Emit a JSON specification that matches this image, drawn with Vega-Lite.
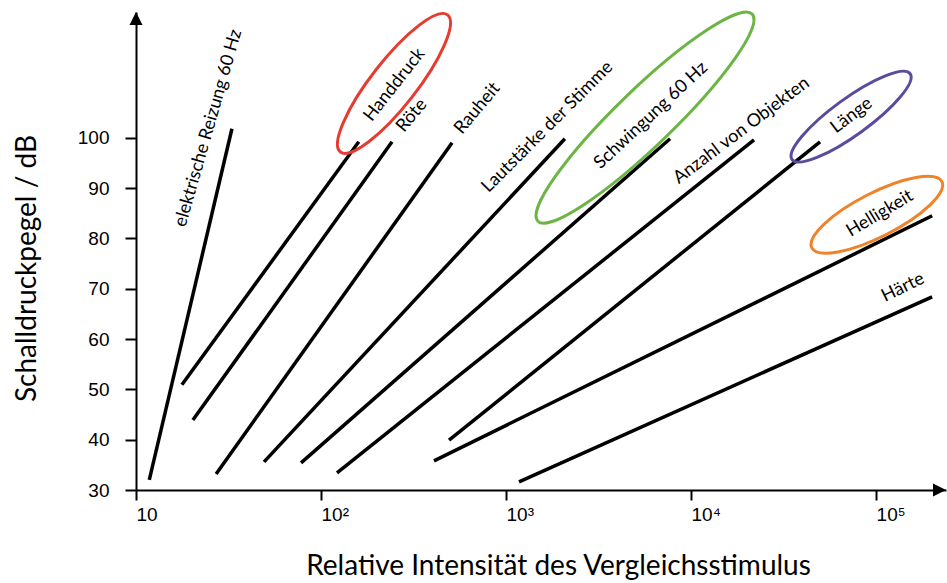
{
  "$schema": "https://vega.github.io/schema/vega-lite/v6.json",
  "width": 810,
  "height": 478,
  "autosize": "none",
  "padding": {"left": 136, "top": 12, "right": 1, "bottom": 93},
  "background": "white",
  "config": {"view": {"stroke": null}},
  "datasets": {
    "lines": [
      {"stimulus": "elektrische Reizung 60 Hz", "intensity": 11.8, "level": 32.0},
      {"stimulus": "elektrische Reizung 60 Hz", "intensity": 33.0, "level": 101.8},
      {"stimulus": "Handdruck", "intensity": 17.7, "level": 50.9},
      {"stimulus": "Handdruck", "intensity": 160, "level": 99.2},
      {"stimulus": "Röte", "intensity": 20.3, "level": 43.9},
      {"stimulus": "Röte", "intensity": 242, "level": 99.2},
      {"stimulus": "Rauheit", "intensity": 27.1, "level": 33.2},
      {"stimulus": "Rauheit", "intensity": 511, "level": 99.0},
      {"stimulus": "Lautstärke der Stimme", "intensity": 49.2, "level": 35.6},
      {"stimulus": "Lautstärke der Stimme", "intensity": 2080, "level": 99.8},
      {"stimulus": "Schwingung 60 Hz", "intensity": 78, "level": 35.4},
      {"stimulus": "Schwingung 60 Hz", "intensity": 7700, "level": 99.8},
      {"stimulus": "Anzahl von Objekten", "intensity": 122, "level": 33.4},
      {"stimulus": "Anzahl von Objekten", "intensity": 21900, "level": 99.6},
      {"stimulus": "Länge", "intensity": 492, "level": 39.9},
      {"stimulus": "Länge", "intensity": 49800, "level": 99.2},
      {"stimulus": "Helligkeit", "intensity": 408, "level": 35.8},
      {"stimulus": "Helligkeit", "intensity": 201000, "level": 84.5},
      {"stimulus": "Härte", "intensity": 1175, "level": 31.6},
      {"stimulus": "Härte", "intensity": 201000, "level": 68.4}
    ],
    "labels": [
      {"label": "elektrische Reizung 60 Hz", "intensity": 24.7, "level": 101.9},
      {"label": "Handdruck", "intensity": 250, "level": 110.5},
      {"label": "Röte", "intensity": 310, "level": 104.4},
      {"label": "Rauheit", "intensity": 701, "level": 105.8},
      {"label": "Lautstärke der Stimme", "intensity": 1676, "level": 102.1},
      {"label": "Schwingung  60 Hz", "intensity": 6080, "level": 104.4},
      {"label": "Anzahl von Objekten", "intensity": 18750, "level": 101.4},
      {"label": "Länge", "intensity": 73800, "level": 104.4},
      {"label": "Helligkeit", "intensity": 105000, "level": 84.9},
      {"label": "Härte", "intensity": 140000, "level": 70.2}
    ],
    "circled": [
      {"label": "Handdruck", "intensity": 248, "level": 110.8},
      {"label": "Schwingung", "intensity": 5640, "level": 104.0},
      {"label": "Länge", "intensity": 73300, "level": 104.2},
      {"label": "Helligkeit", "intensity": 101000, "level": 84.7}
    ],
    "axisEnds": [
      {"axis": "x", "intensity": 238800, "level": 30},
      {"axis": "y", "intensity": 10, "level": 125}
    ]
  },
  "encoding": {
    "x": {
      "field": "intensity", "type": "quantitative",
      "scale": {"type": "log", "domain": [10, 238800], "nice": false},
      "axis": {
        "values": [10, 100, 1000, 10000, 100000],
        "labelExpr": "datum.value == 10 ? '10' : datum.value == 100 ? '10²' : datum.value == 1000 ? '10³' : datum.value == 10000 ? '10⁴' : '10⁵'",
        "grid": false, "domainColor": "black", "domainWidth": 2,
        "tickColor": "black", "tickWidth": 2, "tickSize": 10,
        "labelFont": "Liberation Sans", "labelFontSize": 19, "labelColor": "black",
        "labelAlign": "left", "labelPadding": 5, "labelFlush": false, "labelOverlap": false,
        "title": "Relative Intensität des Vergleichsstimulus",
        "titleFont": "Lato", "titleFontSize": 28, "titleFontWeight": "normal", "titleColor": "black",
        "titleX": 422, "titleY": 84, "titleAlign": "center", "titleBaseline": "alphabetic"
      }
    },
    "y": {
      "field": "level", "type": "quantitative",
      "scale": {"domain": [30, 125], "nice": false, "zero": false},
      "axis": {
        "values": [30, 40, 50, 60, 70, 80, 90, 100],
        "grid": false, "domainColor": "black", "domainWidth": 2,
        "tickColor": "black", "tickWidth": 2, "tickSize": 11,
        "labelFont": "Liberation Sans", "labelFontSize": 19, "labelColor": "black",
        "labelPadding": 16, "labelOverlap": false, "labelFlush": false,
        "title": "Schalldruckpegel / dB",
        "titleFont": "Lato", "titleFontSize": 28, "titleFontWeight": "normal", "titleColor": "black",
        "titleX": -101, "titleY": 256, "titleAngle": -90, "titleAlign": "center", "titleBaseline": "alphabetic"
      }
    }
  },
  "layer": [
    {
      "data": {"name": "lines"},
      "mark": {"type": "line", "color": "black", "strokeWidth": 3.5},
      "encoding": {"detail": {"field": "stimulus"}, "order": {"field": "intensity", "type": "quantitative"}}
    },
    {
      "data": {"name": "axisEnds"},
      "transform": [{"filter": "datum.axis == 'y'"}],
      "mark": {"type": "point", "shape": "M0,0L-0.5,1L0.5,1Z", "size": 676, "filled": true, "fill": "black", "stroke": null, "opacity": 1}
    },
    {
      "data": {"name": "axisEnds"},
      "transform": [{"filter": "datum.axis == 'x'"}],
      "mark": {"type": "point", "shape": "M0,0L-1,-0.5L-1,0.5Z", "size": 676, "filled": true, "fill": "black", "stroke": null, "opacity": 1}
    },
    {
      "data": {"name": "circled"},
      "transform": [{"filter": "datum.label == 'Handdruck'"}],
      "mark": {"type": "point", "shape": "M-1,0C-1,-0.1436,-0.5523,-0.26,0,-0.26C0.5523,-0.26,1,-0.1436,1,0C1,0.1436,0.5523,0.26,0,0.26C-0.5523,0.26,-1,0.1436,-1,0Z", "size": 30276, "angle": -52, "filled": false, "stroke": "#e63b2e", "strokeWidth": 3, "opacity": 1}
    },
    {
      "data": {"name": "circled"},
      "transform": [{"filter": "datum.label == 'Schwingung'"}],
      "mark": {"type": "point", "shape": "M-1,0C-1,-0.1049,-0.5523,-0.19,0,-0.19C0.5523,-0.19,1,-0.1049,1,0C1,0.1049,0.5523,0.19,0,0.19C-0.5523,0.19,-1,0.1049,-1,0Z", "size": 88804, "angle": -44, "filled": false, "stroke": "#6cb544", "strokeWidth": 3, "opacity": 1}
    },
    {
      "data": {"name": "circled"},
      "transform": [{"filter": "datum.label == 'Länge'"}],
      "mark": {"type": "point", "shape": "M-1,0C-1,-0.1381,-0.5523,-0.25,0,-0.25C0.5523,-0.25,1,-0.1381,1,0C1,0.1381,0.5523,0.25,0,0.25C-0.5523,0.25,-1,0.1381,-1,0Z", "size": 21316, "angle": -36, "filled": false, "stroke": "#5c4a9c", "strokeWidth": 3, "opacity": 1}
    },
    {
      "data": {"name": "circled"},
      "transform": [{"filter": "datum.label == 'Helligkeit'"}],
      "mark": {"type": "point", "shape": "M-1,0C-1,-0.1657,-0.5523,-0.3,0,-0.3C0.5523,-0.3,1,-0.1657,1,0C1,0.1657,0.5523,0.3,0,0.3C-0.5523,0.3,-1,0.1657,-1,0Z", "size": 21316, "angle": -27, "filled": false, "stroke": "#f0822a", "strokeWidth": 3, "opacity": 1}
    },
    {
      "data": {"name": "labels"},
      "transform": [{"filter": "datum.label == 'elektrische Reizung 60 Hz'"}],
      "mark": {"type": "text", "font": "Lato", "fontSize": 18, "color": "black", "angle": -74, "align": "center", "baseline": "middle"},
      "encoding": {"text": {"field": "label"}}
    },
    {
      "data": {"name": "labels"},
      "transform": [{"filter": "datum.label == 'Handdruck'"}],
      "mark": {"type": "text", "font": "Lato", "fontSize": 18, "color": "black", "angle": -52, "align": "center", "baseline": "middle"},
      "encoding": {"text": {"field": "label"}}
    },
    {
      "data": {"name": "labels"},
      "transform": [{"filter": "datum.label == 'Röte' || datum.label == 'Rauheit'"}],
      "mark": {"type": "text", "font": "Lato", "fontSize": 18, "color": "black", "angle": -50, "align": "center", "baseline": "middle"},
      "encoding": {"text": {"field": "label"}}
    },
    {
      "data": {"name": "labels"},
      "transform": [{"filter": "datum.label == 'Lautstärke der Stimme'"}],
      "mark": {"type": "text", "font": "Lato", "fontSize": 18, "color": "black", "angle": -45, "align": "center", "baseline": "middle"},
      "encoding": {"text": {"field": "label"}}
    },
    {
      "data": {"name": "labels"},
      "transform": [{"filter": "datum.label == 'Schwingung  60 Hz'"}],
      "mark": {"type": "text", "font": "Lato", "fontSize": 18, "color": "black", "angle": -43, "align": "center", "baseline": "middle"},
      "encoding": {"text": {"field": "label"}}
    },
    {
      "data": {"name": "labels"},
      "transform": [{"filter": "datum.label == 'Anzahl von Objekten' || datum.label == 'Länge'"}],
      "mark": {"type": "text", "font": "Lato", "fontSize": 18, "color": "black", "angle": -37, "align": "center", "baseline": "middle"},
      "encoding": {"text": {"field": "label"}}
    },
    {
      "data": {"name": "labels"},
      "transform": [{"filter": "datum.label == 'Helligkeit'"}],
      "mark": {"type": "text", "font": "Lato", "fontSize": 18, "color": "black", "angle": -31, "align": "center", "baseline": "middle"},
      "encoding": {"text": {"field": "label"}}
    },
    {
      "data": {"name": "labels"},
      "transform": [{"filter": "datum.label == 'Härte'"}],
      "mark": {"type": "text", "font": "Lato", "fontSize": 18, "color": "black", "angle": -26, "align": "center", "baseline": "middle"},
      "encoding": {"text": {"field": "label"}}
    }
  ]
}
